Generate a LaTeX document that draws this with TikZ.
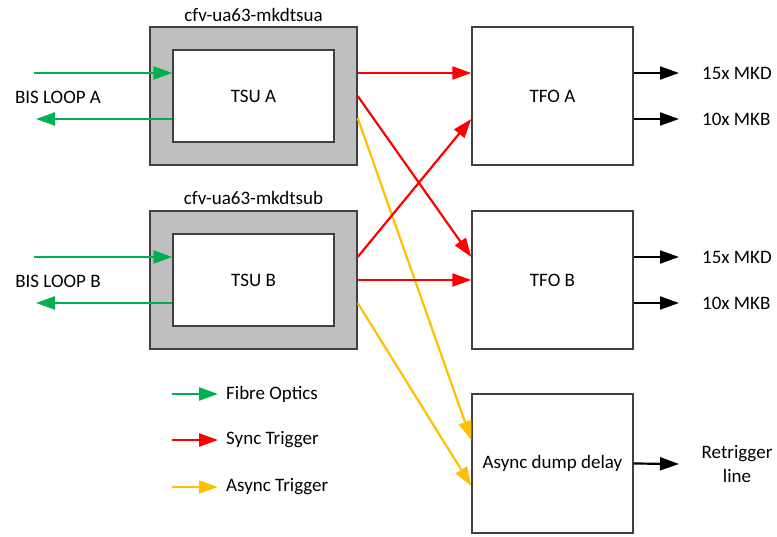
\documentclass[tikz,border=0pt]{standalone}
\usepackage{fontspec}
\setmainfont{Carlito}
\usetikzlibrary{arrows.meta}
\definecolor{fibre}{HTML}{00B050}
\definecolor{sync}{HTML}{FF0000}
\definecolor{async}{HTML}{FFC000}
\definecolor{shell}{HTML}{BFBFBF}
\definecolor{edge}{HTML}{404040}
\begin{document}
\begin{tikzpicture}[x=1pt,y=-1pt,
  every node/.style={font=\fontsize{19}{24}\selectfont, text=black},
  outerbox/.style={draw=edge, line width=1.4pt, fill=shell, minimum width=207pt, minimum height=138pt, inner sep=0pt},
  innerbox/.style={draw=edge, line width=1.4pt, fill=white, minimum width=161pt, minimum height=92pt, inner sep=0pt},
  unitbox/.style={draw=edge, line width=1.4pt, fill=white, minimum width=161pt, minimum height=138pt, inner sep=0pt},
  link/.style={line width=2.2pt, -{Triangle[length=19pt,width=13pt]}},
  fo/.style={link, draw=fibre},
  sy/.style={link, draw=sync},
  as/.style={link, draw=async},
  blk/.style={link, draw=black},
  lbl/.style={anchor=west, inner sep=0pt}
]
\useasboundingbox (0,0) rectangle (777,537);

% timing units, each housed in a crate
\node[outerbox] (crateA) at (253.5,96) {};
\node[innerbox] (tsuA) at (253.5,96) {TSU A};
\node (nameA) at (253.5,15) {cfv-ua63-mkdtsua};
\node[outerbox] (crateB) at (253.5,280) {};
\node[innerbox] (tsuB) at (253.5,280) {TSU B};
\node (nameB) at (253.5,198) {cfv-ua63-mkdtsub};

% fan-outs and delay unit
\node[unitbox] (tfoA) at (552.5,96) {TFO A};
\node[unitbox] (tfoB) at (552.5,280) {TFO B};
\node[unitbox, minimum height=139pt] (adel) at (552.5,463.5) {Async dump delay};

% beam interlock loops
\node (bisA) at (58,97) {BIS LOOP A};
\node (bisB) at (58,281) {BIS LOOP B};
\coordinate (inA) at (34,73);
\coordinate (outA) at (36,119);
\coordinate (inB) at (34,257);
\coordinate (outB) at (36,303);
\draw[fo] (inA) -- ([yshift=23pt]tsuA.west);
\draw[fo] ([yshift=-23pt]tsuA.west) -- (outA);
\draw[fo] (inB) -- ([yshift=23pt]tsuB.west);
\draw[fo] ([yshift=-23pt]tsuB.west) -- (outB);

% async triggers
\draw[as] ([yshift=-22pt]crateA.east) -- ([yshift=23.5pt]adel.west);
\draw[as] ([yshift=-23pt]crateB.east) -- ([yshift=-22.5pt]adel.west);

% sync triggers
\draw[sy] ([yshift=23pt]crateA.east) -- ([yshift=23pt]tfoA.west);
\draw[sy] (crateA.east) -- ([yshift=23pt]tfoB.west);
\draw[sy] ([yshift=23pt]crateB.east) -- ([yshift=-23pt]tfoA.west);
\draw[sy] (crateB.east) -- (tfoB.west);

% outputs
\coordinate (mkdA) at (679,73);
\coordinate (mkbA) at (679,119);
\coordinate (mkdB) at (679,257);
\coordinate (mkbB) at (679,303);
\coordinate (retr) at (679,464);
\draw[blk] ([yshift=23pt]tfoA.east) -- (mkdA);
\draw[blk] ([yshift=-23pt]tfoA.east) -- (mkbA);
\draw[blk] ([yshift=23pt]tfoB.east) -- (mkdB);
\draw[blk] ([yshift=-23pt]tfoB.east) -- (mkbB);
\draw[blk] (adel.east) -- (retr);
\node[lbl] (tmkdA) at (702,73) {15x MKD};
\node[lbl] (tmkbA) at (702,119) {10x MKB};
\node[lbl] (tmkdB) at (702,257) {15x MKD};
\node[lbl] (tmkbB) at (702,303) {10x MKB};
\node[align=center] (tretr) at (737,464) {Retrigger\\line};

% legend
\coordinate (k1a) at (172,394); \coordinate (k1b) at (218,394);
\coordinate (k2a) at (172,440); \coordinate (k2b) at (218,440);
\coordinate (k3a) at (172,487); \coordinate (k3b) at (218,487);
\draw[fo] (k1a) -- (k1b);
\draw[sy] (k2a) -- (k2b);
\draw[as] (k3a) -- (k3b);
\node[lbl] (t1) at (226,394) {Fibre Optics};
\node[lbl] (t2) at (226,440) {Sync Trigger};
\node[lbl] (t3) at (226,487) {Async Trigger};
\end{tikzpicture}
\end{document}
